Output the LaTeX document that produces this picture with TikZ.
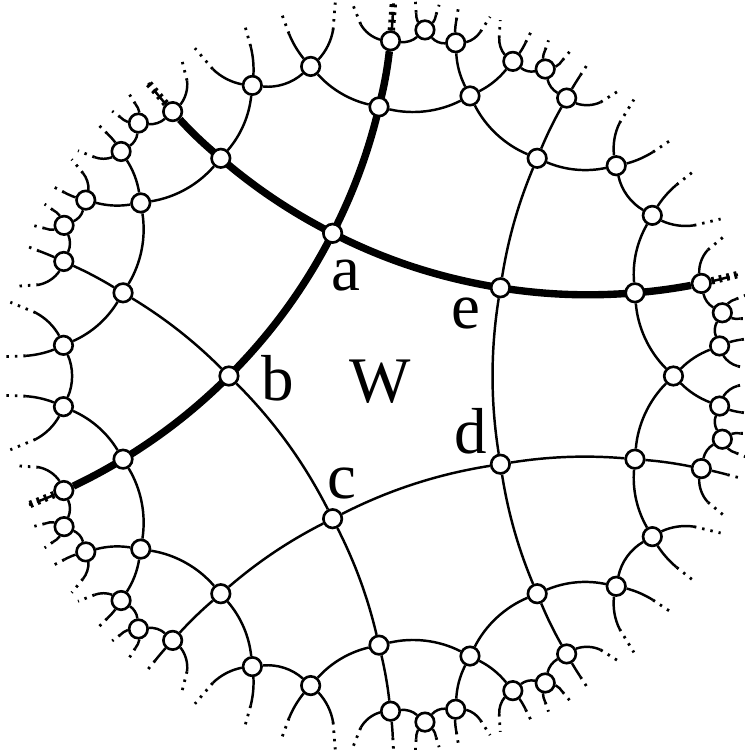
\documentclass[tikz,border=0pt]{standalone}
\usepackage{fontspec}
\setmainfont{Liberation Serif}
\usetikzlibrary{backgrounds}
\tikzset{
  vtx/.style     = {circle, draw, fill=white, line width=0.75pt, minimum size=1.85mm, inner sep=0pt},
  link/.style    = {line width=0.7pt, looseness=0.87},
  geo/.style     = {line width=2.1pt, looseness=0.87},
  tail/.style    = {line width=0.8pt, dash pattern=on 0.7pt off 1.7pt},
  geotail/.style = {line width=2.1pt, dash pattern=on 0.8pt off 1.4pt},
  lbl/.style     = {font=\fontsize{18.5}{20}\selectfont, inner sep=0pt, anchor=base},
}
\begin{document}
\begin{tikzpicture}
  \useasboundingbox (-3.79,-3.74) rectangle (3.65,3.76);
  % vertices, one period of 72 degrees at a time
  \foreach \k in {0,...,4} {
    \pgfmathsetmacro\p{72*\k}
    \node[vtx] (v\k) at ({\p+36}:1.5004) {};
    \node[vtx] (m\k) at (\p:2.9446) {};
    \foreach \sg/\pn/\sn/\fn/\xn/\wn in {1/p/s/fa/xa/wa, -1/q/u/fb/xb/wb} {
      \node[vtx] (\pn\k) at ({\p+(\sg)*18}:2.6911) {};
      \node[vtx] (\sn\k) at ({\p+(\sg)*30.447}:3.1704) {};
      \node[vtx] (\fn\k) at ({\p+(\sg)*5.042}:3.4195) {};
      \node[vtx] (\xn\k) at ({\p+(\sg)*10.434}:3.4912) {};
      \node[vtx] (\wn\k) at ({\p+(\sg)*16.03}:3.3537) {};
    }
  }
  \begin{scope}[on background layer]
    \foreach \k in {0,...,4} {
      \pgfmathsetmacro\p{72*\k}
      \pgfmathtruncatemacro\kn{mod(\k+1,5)}
      \draw[link] (v\k) to[bend left=9] (v\kn);
      \draw[link] (v\k) to[bend left=6.86] (q\kn);
      \draw[link] (v\k) to[bend right=6.86] (p\k);
      \draw[link] (s\k) to[bend left=24] (u\kn);
      \foreach \sg/\pn/\sn/\fn/\xn/\wn in {1/p/s/fa/xa/wa, -1/q/u/fb/xb/wb} {
        \draw[link] (m\k) to[bend left={((\sg)*20.1)}] (\pn\k);
        \draw[link] (\pn\k) to[bend left={((\sg)*17.4)}] (\sn\k);
        \draw[link] (m\k) to[bend left={((\sg)*11.9)}] (\fn\k);
        \draw[link] (\fn\k) to[bend left={((\sg)*25.7)}] (\xn\k);
        \draw[link] (\xn\k) to[bend left={((\sg)*24)}] (\wn\k);
        \draw[link] (\pn\k) to[bend left={((\sg)*(-3.41))}] (\wn\k);
        % loose ends, fading out towards the rim
        \foreach \src/\da/\dr/\bd/\di in {\fn/1.576/3.5882/-20.7/0.814, \fn/5.734/3.6428/4.9/5.83,
            \xn/12.163/3.6537/14.7/12.442, \xn/9.016/3.6595/-12.4/8.796,
            \wn/20.98/3.5224/22.6/22.214, \wn/15.81/3.6203/-1.4/15.77,
            \sn/25.56/3.4912/-16.5/24.683, \sn/32.73/3.5384/8.45/33.058} {
          \coordinate (far) at ({\p+(\sg)*\da}:\dr);
          \coordinate (brink) at ({\p+(\sg)*\di}:3.76);
          \draw[link] (\src\k) to[bend left={((\sg)*(\bd))}] (far);
          \draw[tail] (far) -- (brink);
        }
      }
    }
    % the two thick geodesics crossing at a
    \draw[geo] (wb2) to[bend right=3.41] (q2) to[bend right=6.86] (v1) to[bend right=9] (v0)
      to[bend right=6.86] (p0) to[bend right=3.41] (wa0);
    \draw[geo] (wa1) to[bend left=3.41] (p1) to[bend left=6.86] (v1) to[bend left=9] (v2)
      to[bend left=6.86] (q3) to[bend left=3.41] (wb3);
    \foreach \w/\b in {wa0/15.77, wb2/128.23, wa1/87.77, wb3/200.23} {
      \coordinate (brink) at (\b:3.76);
      \draw[geotail] (\w) -- (brink);
    }
  \end{scope}
  \node[lbl] (la) at (-0.332,0.86) {a};
  \node[lbl] (lb) at (-1.015,-0.24) {b};
  \node[lbl] (lc) at (-0.375,-1.22) {c};
  \node[lbl] (ld) at (0.92,-0.77) {d};
  \node[lbl] (le) at (0.87,0.48) {e};
  \node[lbl] (lw) at (0.01,-0.267) {W};
\end{tikzpicture}
\end{document}
